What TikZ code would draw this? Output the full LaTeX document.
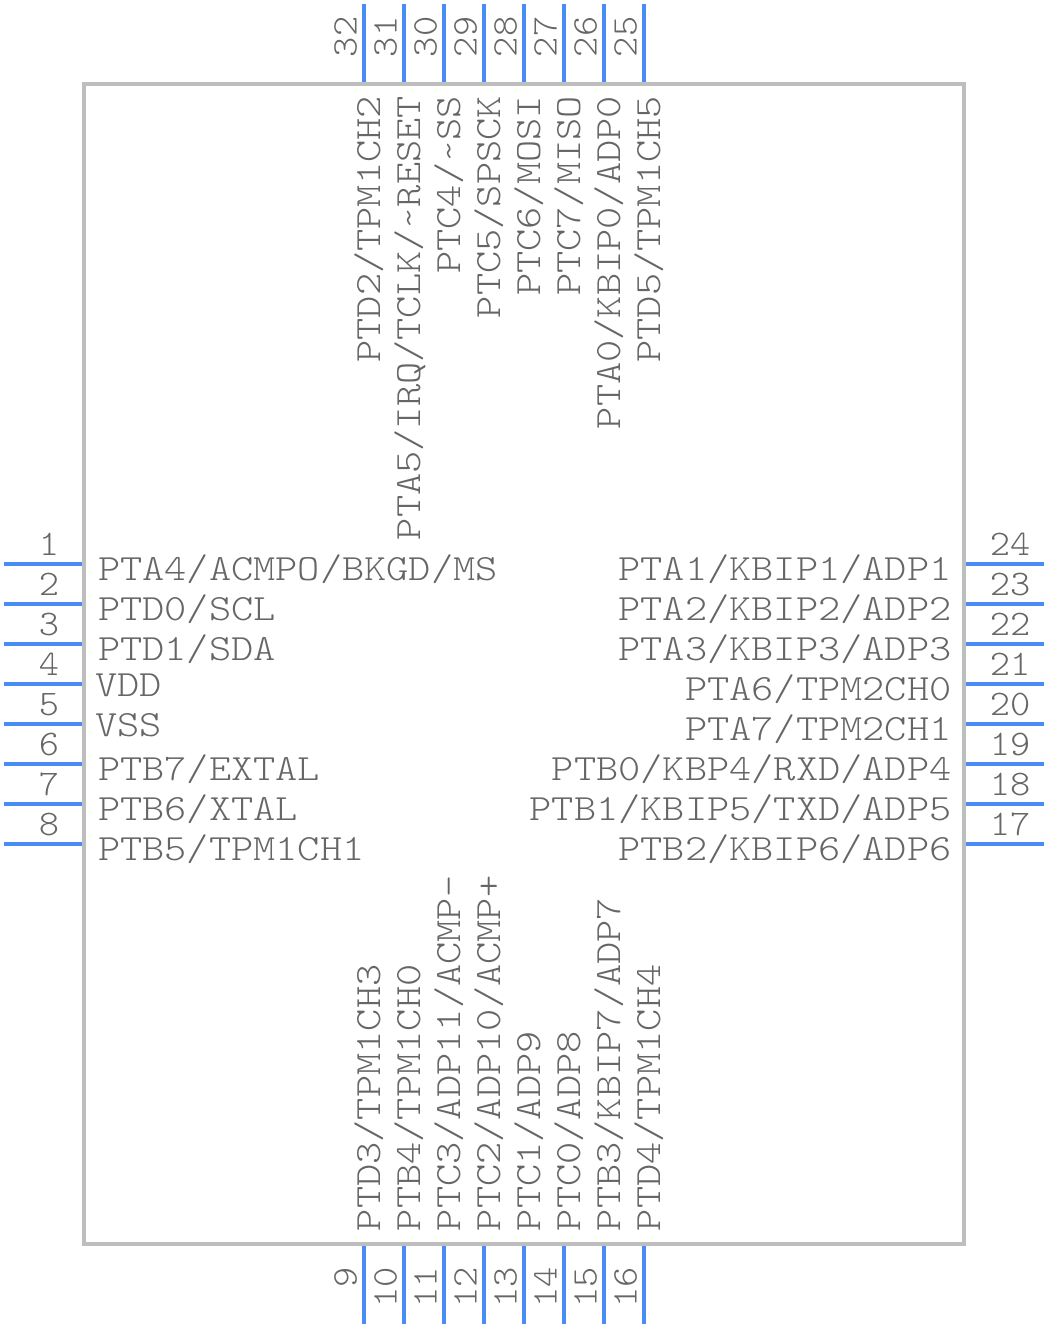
\documentclass[tikz,border=0pt]{standalone}
\usepackage{fontspec}
\newfontfamily\namefont[FakeStretch=1.143]{Latin Modern Mono Light}
\newfontfamily\numfont[FakeStretch=1.07]{Latin Modern Mono Light}
\definecolor{pinblue}{HTML}{4A8CF5}
\definecolor{bodygray}{HTML}{BEBEBE}
\definecolor{txtgray}{HTML}{666666}
\tikzset{
  chip/.style={draw=bodygray,line width=4pt,fill=none,minimum width=880pt,minimum height=1160pt,inner sep=0pt,outer sep=0pt},
  pinline/.style={draw=pinblue,line width=4pt},
  nm/.style={inner sep=0pt,outer sep=0pt,text=txtgray,font=\namefont\fontsize{37}{37}\selectfont},
  num/.style={inner sep=0pt,outer sep=0pt,text=txtgray,font=\numfont\fontsize{36}{36}\selectfont},
}
\begin{document}
\begin{tikzpicture}[x=1pt,y=-1pt]
\useasboundingbox (0,0) rectangle (1048,1328);
% left pins
\foreach \n/\lab [count=\i from 0] in {1/PTA4\slash ACMPO\slash BKGD\slash MS,2/PTD0\slash SCL,3/PTD1\slash SDA,4/VDD,5/VSS,6/PTB7\slash EXTAL,7/PTB6\slash XTAL,8/PTB5\slash TPM1CH1}{
  \pgfmathsetmacro{\py}{564+40*\i}
  \coordinate (p\n a) at (4,\py);
  \coordinate (p\n b) at (84,\py);
  \draw[pinline] (p\n a) -- (p\n b);
  \node[num,anchor=base] (n\n) at (49,\py-9) {\n};
  \pgfmathsetmacro{\off}{(\n==4||\n==5)?12:16}
  \pgfmathsetmacro{\tx}{(\n==4||\n==5)?95:98}
  \node[nm,anchor=base west] (t\n) at (\tx,\py+\off) {\lab};
}
% right pins
\foreach \n/\lab [count=\i from 0] in {24/PTA1\slash KBIP1\slash ADP1,23/PTA2\slash KBIP2\slash ADP2,22/PTA3\slash KBIP3\slash ADP3,21/PTA6\slash TPM2CH0,20/PTA7\slash TPM2CH1,19/PTB0\slash KBP4\slash RXD\slash ADP4,18/PTB1\slash KBIP5\slash TXD\slash ADP5,17/PTB2\slash KBIP6\slash ADP6}{
  \pgfmathsetmacro{\py}{564+40*\i}
  \coordinate (p\n a) at (1044,\py);
  \coordinate (p\n b) at (964,\py);
  \draw[pinline] (p\n a) -- (p\n b);
  \node[num,anchor=base] (n\n) at (1010,\py-9) {\n};
  \node[nm,anchor=base east] (t\n) at (951.5,\py+16) {\lab};
}
% top pins
\foreach \n/\lab [count=\i from 0] in {32/PTD2\slash TPM1CH2,31/PTA5\slash IRQ\slash TCLK\slash \string~RESET,30/PTC4\slash \string~SS,29/PTC5\slash SPSCK,28/PTC6\slash MOSI,27/PTC7\slash MISO,26/PTA0\slash KBIP0\slash ADP0,25/PTD5\slash TPM1CH5}{
  \pgfmathsetmacro{\px}{364+40*\i}
  \coordinate (p\n a) at (\px,4);
  \coordinate (p\n b) at (\px,84);
  \draw[pinline] (p\n a) -- (p\n b);
  \node[num,rotate=90,anchor=base west] (n\n) at (\px-7.5,57) {\n};
  \node[nm,rotate=90,anchor=base east] (t\n) at (\px+16,96) {\lab};
}
% bottom pins
\foreach \n/\lab [count=\i from 0] in {9/PTD3\slash TPM1CH3,10/PTB4\slash TPM1CH0,11/PTC3\slash ADP11\slash ACMP-,12/PTC2\slash ADP10\slash ACMP+,13/PTC1\slash ADP9,14/PTC0\slash ADP8,15/PTB3\slash KBIP7\slash ADP7,16/PTD4\slash TPM1CH4}{
  \pgfmathsetmacro{\px}{364+40*\i}
  \coordinate (p\n a) at (\px,1324);
  \coordinate (p\n b) at (\px,1244);
  \draw[pinline] (p\n a) -- (p\n b);
  \node[num,rotate=90,anchor=base east] (n\n) at (\px-7.5,1267) {\n};
  \node[nm,rotate=90,anchor=base west] (t\n) at (\px+16,1231) {\lab};
}
\node[chip] (body) at (524,664) {};
\end{tikzpicture}
\end{document}
